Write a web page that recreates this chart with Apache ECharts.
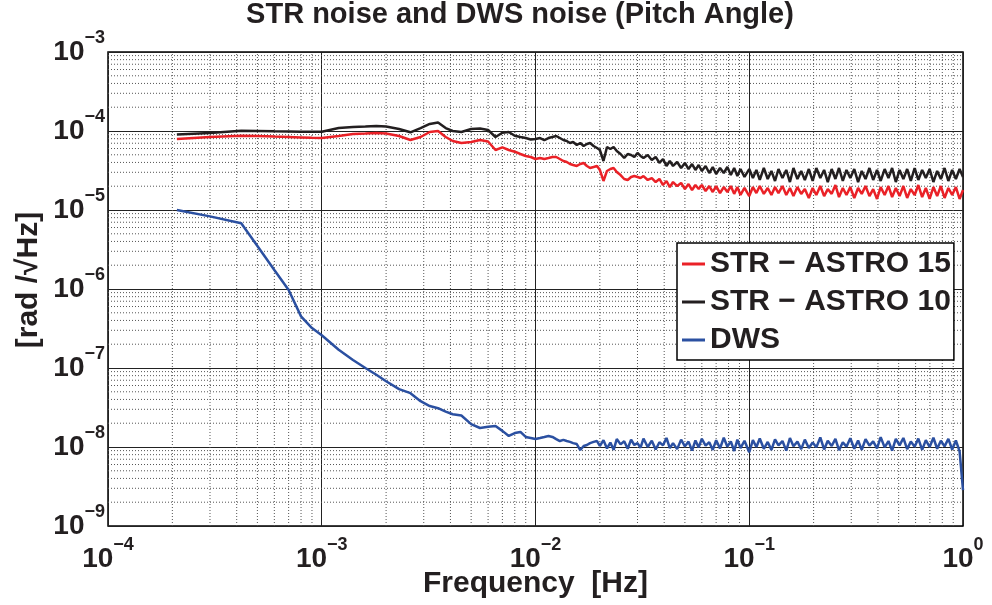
<!DOCTYPE html>
<html>
<head>
<meta charset="utf-8">
<script src="https://cdn.jsdelivr.net/npm/echarts@6/dist/echarts.min.js"></script>
<style>
html, body { margin: 0; padding: 0; background: #fff; }
#noise { width: 992px; height: 605px; }
</style>
</head>
<body>
<div id="noise"></div>
<script>
// frequency samples shared by the three curves [Hz]
var freq = [
  2.1e-4, 3e-4, 4.2e-4, 5e-4, 6e-4, 7e-4, 8e-4, 9e-4, 1e-3,
  1.2e-3, 1.4e-3, 1.6e-3, 1.8e-3, 2e-3, 2.3e-3, 2.6e-3, 2.9e-3, 3.2e-3,
  3.5e-3, 3.8e-3, 4.1e-3, 4.5e-3, 5e-3, 5.5e-3, 6e-3, 6.5e-3, 7e-3,
  7.5e-3, 8e-3, 8.5e-3, 9e-3, 9.5e-3, 0.01,
  0.0105, 0.011, 0.0115, 0.012, 0.0125, 0.013, 0.0135, 0.014, 0.0145, 0.015,
  0.0156, 0.0162, 0.0168, 0.0174, 0.018, 0.0187, 0.0194, 0.02, 0.0208, 0.0216,
  0.0224, 0.0232, 0.024, 0.025, 0.026, 0.027, 0.028, 0.029, 0.03, 0.031,
  0.032, 0.0335, 0.035, 0.0365, 0.038, 0.0395, 0.041, 0.0425, 0.044, 0.046,
  0.048, 0.05, 0.052, 0.054, 0.056, 0.058, 0.06, 0.0625, 0.065, 0.0675,
  0.07, 0.073, 0.076, 0.079, 0.082, 0.085, 0.088, 0.091, 0.095,
  0.1, 0.104, 0.108, 0.112, 0.117, 0.122, 0.127, 0.132, 0.137, 0.143,
  0.149, 0.155, 0.161, 0.168, 0.175, 0.182, 0.19, 0.198, 0.206, 0.215,
  0.224, 0.233, 0.243, 0.253, 0.263, 0.274, 0.285, 0.297, 0.31, 0.323,
  0.336, 0.35, 0.365, 0.38, 0.396, 0.412, 0.43, 0.448, 0.466, 0.485,
  0.505, 0.526, 0.548, 0.57, 0.594, 0.618, 0.644, 0.67, 0.698, 0.727,
  0.757, 0.788, 0.82, 0.854, 0.89, 0.926, 0.964, 1.0
];

// STR - ASTRO 15 [rad/sqrt(Hz)]
var str15 = [
  7.92e-5, 8.40e-5, 8.70e-5, 8.64e-5, 8.50e-5, 8.40e-5, 8.30e-5, 8.20e-5, 8.15e-5,
  8.64e-5, 9.16e-5, 9.30e-5, 9.44e-5, 9.30e-5, 8.64e-5, 7.69e-5, 8.40e-5, 9.71e-5,
  1.00e-4, 8.40e-5, 7.47e-5, 7.05e-5, 7.26e-5, 7.69e-5, 7.36e-5, 5.75e-5, 6.20e-5,
  5.75e-5, 5.47e-5, 5.12e-5, 4.83e-5, 4.69e-5, 4.42e-5,
  4.55e-5, 4.42e-5, 4.55e-5, 4.69e-5, 4.69e-5, 4.42e-5, 4.17e-5, 4.05e-5, 3.82e-5, 3.71e-5,
  3.61e-5, 3.82e-5, 3.94e-5, 3.61e-5, 3.40e-5, 3.50e-5, 3.61e-5, 3.21e-5, 2.33e-5, 3.12e-5,
  3.30e-5, 3.40e-5, 3.03e-5, 2.77e-5, 2.47e-5, 2.40e-5, 2.62e-5, 2.69e-5, 2.62e-5, 2.54e-5,
  2.69e-5, 2.40e-5, 2.54e-5, 2.26e-5, 2.47e-5, 2.07e-5, 2.33e-5, 1.95e-5, 2.26e-5, 2.01e-5,
  2.20e-5, 1.84e-5, 2.13e-5, 1.79e-5, 2.07e-5, 1.84e-5, 2.07e-5, 1.74e-5, 2.01e-5, 1.69e-5,
  2.01e-5, 1.64e-5, 1.95e-5, 1.69e-5, 2.01e-5, 1.60e-5, 1.95e-5, 1.55e-5, 1.90e-5,
  1.50e-5, 1.95e-5, 1.64e-5, 2.01e-5, 1.60e-5, 1.90e-5, 1.55e-5, 1.95e-5, 1.64e-5, 2.01e-5,
  1.55e-5, 1.90e-5, 1.50e-5, 1.95e-5, 1.60e-5, 1.84e-5, 1.42e-5, 1.90e-5, 1.55e-5, 2.01e-5,
  1.50e-5, 1.84e-5, 1.60e-5, 2.07e-5, 1.46e-5, 1.90e-5, 1.55e-5, 1.95e-5, 1.42e-5, 1.90e-5,
  1.60e-5, 2.01e-5, 1.50e-5, 1.84e-5, 1.38e-5, 1.95e-5, 1.55e-5, 2.01e-5, 1.46e-5, 1.90e-5,
  1.50e-5, 2.01e-5, 1.42e-5, 1.84e-5, 1.55e-5, 2.07e-5, 1.46e-5, 1.90e-5, 1.38e-5, 1.95e-5,
  1.50e-5, 2.01e-5, 1.42e-5, 1.90e-5, 1.55e-5, 1.95e-5, 1.38e-5, 1.79e-5
];

// STR - ASTRO 10
var str10 = [
  9.00e-5, 9.44e-5, 1.01e-4, 1.00e-4, 9.90e-5, 9.85e-5, 9.80e-5, 9.80e-5, 9.80e-5,
  1.09e-4, 1.12e-4, 1.14e-4, 1.16e-4, 1.14e-4, 1.06e-4, 9.63e-5, 1.09e-4, 1.23e-4,
  1.28e-4, 1.09e-4, 1.00e-4, 9.71e-5, 1.06e-4, 1.075e-4, 1.03e-4, 8.40e-5, 9.50e-5,
  9.71e-5, 8.70e-5, 8.40e-5, 8.15e-5, 7.80e-5, 7.92e-5,
  8.15e-5, 7.69e-5, 8.15e-5, 8.40e-5, 8.64e-5, 8.15e-5, 7.69e-5, 7.47e-5, 7.05e-5, 7.26e-5,
  6.65e-5, 7.05e-5, 6.46e-5, 6.84e-5, 7.05e-5, 6.46e-5, 6.09e-5, 5.75e-5, 4.17e-5, 6.27e-5,
  5.92e-5, 6.27e-5, 5.58e-5, 5.12e-5, 4.55e-5, 5.12e-5, 4.97e-5, 4.69e-5, 5.27e-5, 4.83e-5,
  4.55e-5, 4.97e-5, 4.30e-5, 4.69e-5, 3.94e-5, 4.42e-5, 3.61e-5, 4.17e-5, 3.61e-5, 4.05e-5,
  3.40e-5, 3.94e-5, 3.30e-5, 3.82e-5, 3.21e-5, 3.71e-5, 3.12e-5, 3.61e-5, 2.94e-5, 3.50e-5,
  2.86e-5, 3.40e-5, 2.94e-5, 3.50e-5, 2.77e-5, 3.40e-5, 2.69e-5, 3.30e-5, 2.62e-5,
  3.30e-5, 2.54e-5, 3.21e-5, 2.40e-5, 3.40e-5, 2.47e-5, 3.12e-5, 2.33e-5, 3.30e-5, 2.54e-5,
  3.21e-5, 2.26e-5, 3.40e-5, 2.47e-5, 3.12e-5, 2.40e-5, 3.30e-5, 2.33e-5, 3.40e-5, 2.54e-5,
  3.21e-5, 2.26e-5, 3.30e-5, 2.47e-5, 3.40e-5, 2.33e-5, 3.21e-5, 2.54e-5, 3.30e-5, 2.26e-5,
  3.12e-5, 2.47e-5, 3.40e-5, 2.40e-5, 3.21e-5, 2.33e-5, 3.30e-5, 2.54e-5, 3.40e-5, 2.26e-5,
  3.21e-5, 2.47e-5, 3.30e-5, 2.33e-5, 3.40e-5, 2.40e-5, 3.21e-5, 2.54e-5, 3.30e-5, 2.26e-5,
  3.12e-5, 2.47e-5, 3.40e-5, 2.33e-5, 3.21e-5, 2.47e-5, 3.30e-5, 2.62e-5
];

// DWS
var dws = [
  1.00e-5, 8.3e-6, 6.8e-6, 3.5e-6, 1.74e-6, 9.7e-7, 4.5e-7, 3.2e-7, 2.6e-7,
  1.7e-7, 1.26e-7, 1.0e-7, 8.2e-8, 6.8e-8, 5.4e-8, 4.8e-8, 3.8e-8, 3.3e-8,
  3.1e-8, 2.8e-8, 2.6e-8, 2.5e-8, 1.95e-8, 1.74e-8, 1.8e-8, 1.85e-8, 1.6e-8,
  1.38e-8, 1.5e-8, 1.55e-8, 1.34e-8, 1.3e-8, 1.26e-8,
  1.30e-8, 1.34e-8, 1.38e-8, 1.34e-8, 1.26e-8, 1.19e-8, 1.23e-8, 1.19e-8, 1.16e-8, 1.12e-8,
  1.09e-8, 9.16e-9, 1.03e-8, 1.06e-8, 1.12e-8, 1.16e-8, 1.19e-8, 1.03e-8, 1.22e-8, 9.6e-9,
  1.14e-8, 9.2e-9, 1.26e-8, 1.08e-8, 1.18e-8, 9.5e-9, 1.24e-8, 1.06e-8, 1.12e-8, 9.8e-9,
  1.28e-8, 1.00e-8, 1.20e-8, 9.3e-9, 1.15e-8, 1.05e-8, 1.30e-8, 9.7e-9, 1.12e-8, 9.4e-9,
  1.24e-8, 1.02e-8, 1.17e-8, 9.0e-9, 1.21e-8, 9.9e-9, 1.27e-8, 1.04e-8, 1.15e-8, 9.2e-9,
  1.22e-8, 9.6e-9, 1.31e-8, 1.01e-8, 1.18e-8, 8.9e-9, 1.24e-8, 9.7e-9, 1.20e-8,
  8.6e-9, 1.22e-8, 1.00e-8, 1.28e-8, 9.5e-9, 1.16e-8, 9.2e-9, 1.25e-8, 1.05e-8, 1.19e-8,
  9.0e-9, 1.30e-8, 1.02e-8, 1.17e-8, 9.4e-9, 1.24e-8, 9.7e-9, 1.14e-8, 9.9e-9, 1.32e-8,
  9.3e-9, 1.20e-8, 1.03e-8, 1.27e-8, 9.1e-9, 1.15e-8, 1.01e-8, 1.29e-8, 9.5e-9, 1.21e-8,
  9.2e-9, 1.26e-8, 1.04e-8, 1.18e-8, 9.6e-9, 1.33e-8, 9.9e-9, 1.19e-8, 9.0e-9, 1.27e-8,
  1.05e-8, 1.30e-8, 9.4e-9, 1.17e-8, 1.01e-8, 1.28e-8, 9.2e-9, 1.22e-8, 1.00e-8, 1.31e-8,
  9.5e-9, 1.20e-8, 1.02e-8, 1.27e-8, 9.3e-9, 1.21e-8, 8.8e-9, 2.85e-9
];

var names = ['STR \u2212 ASTRO 15', 'STR \u2212 ASTRO 10', 'DWS'];
var colors = ['#ea2127', '#231f20', '#2b50a1'];
var curves = [str15, str10, dws];

var xDecades = [-4, -3, -2, -1];
var yDecades = [-9, -8, -7, -6, -5, -4];
var minorSteps = [2, 3, 4, 5, 6, 7, 8, 9];

var font = "'Liberation Sans', Arial, Helvetica, sans-serif";
var ink = '#231f20';

var chart = echarts.init(document.getElementById('noise'));

function pow10Label(value) {
    var e = Math.round(Math.log10(value));
    var txt = e < 0 ? '\u2212' + (-e) : '' + e;
    return '{b|10}{s|' + txt + '}';
}

var labelRich = {
    b: { fontSize: 28, fontWeight: 'bold', fontFamily: font, color: ink },
    s: { fontSize: 18, fontWeight: 'bold', fontFamily: font, color: ink, padding: [0, 0, 28, 0] }
};

var minorLine = { color: '#555', width: 1, type: [1, 2] };

var series = [];
// dotted minor grid, one line per multiple of each decade
xDecades.forEach(function (d) {
    minorSteps.forEach(function (m) {
        var v = m * Math.pow(10, d);
        series.push({
            type: 'line', silent: true, symbol: 'none', z: 1, animation: false,
            lineStyle: minorLine, data: [[v, 1e-9], [v, 1e-3]]
        });
    });
});
yDecades.forEach(function (d) {
    minorSteps.forEach(function (m) {
        var v = m * Math.pow(10, d);
        series.push({
            type: 'line', silent: true, symbol: 'none', z: 1, animation: false,
            lineStyle: minorLine, data: [[1e-4, v], [1, v]]
        });
    });
});

curves.forEach(function (vals, i) {
    series.push({
        name: names[i],
        type: 'line',
        symbol: 'none',
        z: 3,
        animation: false,
        color: colors[i],
        lineStyle: { color: colors[i], width: 2.5 },
        data: freq.map(function (f, k) { return [f, vals[k]]; })
    });
});

var option = {
    backgroundColor: '#fff',
    animation: false,
    title: {
        text: 'STR noise and DWS noise (Pitch Angle)',
        left: 520,
        top: 0,
        padding: 0,
        textAlign: 'center',
        textStyle: { fontSize: 29, fontWeight: 'bold', fontFamily: font, color: ink }
    },
    grid: {
        left: 108, right: 29, top: 52, bottom: 79,
        outerBoundsMode: 'none',
        containLabel: false,
        show: true, borderColor: '#000', borderWidth: 1.5, backgroundColor: 'transparent'
    },
    legend: {
        data: names,
        orient: 'vertical',
        left: 677,
        top: 243,
        padding: [6, 3, 5, 5],
        itemGap: 8,
        icon: 'rect',
        itemWidth: 23,
        itemHeight: 3,
        backgroundColor: '#fff',
        borderColor: '#000',
        borderWidth: 1.5,
        textStyle: { fontSize: 30, fontWeight: 'bold', fontFamily: font, color: ink }
    },
    xAxis: {
        type: 'log',
        logBase: 10,
        min: 1e-4,
        max: 1,
        splitNumber: 4,
        name: 'Frequency  [Hz]',
        nameLocation: 'middle',
        nameGap: 43,
        nameMoveOverlap: false,
        nameTextStyle: { fontSize: 30, fontWeight: 'bold', fontFamily: font, color: ink },
        axisLine: { show: false },
        axisTick: { show: false },
        axisLabel: { formatter: pow10Label, rich: labelRich, margin: 10 },
        splitLine: { show: true, lineStyle: { color: '#222', width: 1 } }
    },
    yAxis: {
        type: 'log',
        logBase: 10,
        min: 1e-9,
        max: 1e-3,
        splitNumber: 6,
        name: '[rad /\u221AHz]',
        nameLocation: 'middle',
        nameGap: 64,
        nameMoveOverlap: false,
        nameTextStyle: { fontSize: 30, fontWeight: 'bold', fontFamily: font, color: ink, padding: [0, 0, 0, 18] },
        axisLine: { show: false },
        axisTick: { show: false },
        axisLabel: { formatter: pow10Label, rich: labelRich, margin: 3 },
        splitLine: { show: true, lineStyle: { color: '#222', width: 1 } }
    },
    series: series
};

chart.setOption(option);
</script>
</body>
</html>
